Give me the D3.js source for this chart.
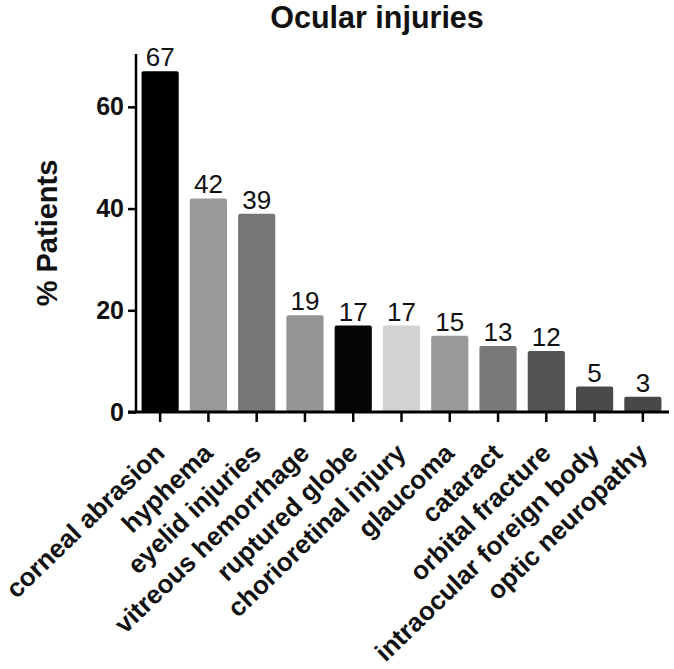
<!DOCTYPE html>
<html>
<head>
<meta charset="utf-8">
<script src="https://cdn.jsdelivr.net/npm/d3@7"></script>
<style>
    body { margin: 0; background: #fff; }
    text { font-family: "Liberation Sans", Arial, sans-serif; }
</style>
</head>
<body>
<div id="chart"></div>
<script>
const chartTitle = "Ocular injuries";
const yLabel = "% Patients";
const injuries = [
    "corneal abrasion", "hyphema", "eyelid injuries", "vitreous hemorrhage",
    "ruptured globe", "chorioretinal injury", "glaucoma", "cataract",
    "orbital fracture", "intraocular foreign body", "optic neuropathy"
];
const percentPatients = [67, 42, 39, 19, 17, 17, 15, 13, 12, 5, 3];
const yTickValues = [0, 20, 40, 60];

const config = {
    width: 674,
    height: 669,
    left: 136,
    right: 667,
    top: 56,
    bottom: 412
};

const fillScale = d3.scaleOrdinal()
    .domain(injuries)
    .range(["#000000", "#999999", "#767676", "#959595", "#050505", "#d2d2d2",
            "#999999", "#797979", "#545454", "#4a4a4a", "#484848"]);

const drawChart = () => {
    const svg = d3.select("#chart")
        .append("svg")
        .attr("width", config.width)
        .attr("height", config.height);

    const x = d3.scaleBand()
        .domain(injuries)
        .range([config.left, config.right])
        .paddingInner(0.23)
        .paddingOuter(0.115);

    const y = d3.scaleLinear()
        .domain([0, 70])
        .range([config.bottom, config.top]);

    // bars
    svg.append("g")
        .selectAll("rect")
        .data(injuries)
        .enter()
        .append("rect")
        .attr("x", (d) => x(d))
        .attr("y", (d, i) => y(percentPatients[i]))
        .attr("width", x.bandwidth())
        .attr("height", (d, i) => y(0) - y(percentPatients[i]))
        .attr("rx", 2)
        .attr("fill", (d) => fillScale(d));

    // value labels
    svg.append("g")
        .selectAll("text")
        .data(injuries)
        .enter()
        .append("text")
        .attr("x", (d) => x(d) + x.bandwidth() / 2)
        .attr("y", (d, i) => y(percentPatients[i]) - 5)
        .attr("text-anchor", "middle")
        .attr("font-size", 26)
        .attr("fill", "#111")
        .text((d, i) => percentPatients[i]);

    // y axis
    const yAxis = svg.append("g")
        .attr("transform", `translate(${config.left}, 0)`)
        .call(d3.axisLeft(y).tickValues(yTickValues).tickSize(8).tickPadding(4).tickSizeOuter(0));
    yAxis.select(".domain").attr("stroke", "#000").attr("stroke-width", 2.5)
        .attr("d", `M0,${config.top - 2}V${config.bottom}`);
    yAxis.selectAll(".tick line").attr("stroke", "#000").attr("stroke-width", 2.5);
    yAxis.selectAll(".tick text")
        .attr("font-size", 25)
        .attr("font-weight", "bold")
        .attr("font-family", "Liberation Sans, Arial, sans-serif")
        .attr("fill", "#111");

    // x axis
    const xAxis = svg.append("g")
        .attr("transform", `translate(0, ${config.bottom})`)
        .call(d3.axisBottom(x).tickSize(10).tickSizeOuter(0));
    xAxis.select(".domain").attr("stroke", "#000").attr("stroke-width", 3)
        .attr("d", `M${config.left - 8},0H${config.right + 2}`);
    xAxis.selectAll(".tick line").attr("stroke", "#000").attr("stroke-width", 2.5);
    xAxis.selectAll(".tick text")
        .attr("font-size", 26)
        .attr("font-weight", "bold")
        .attr("font-family", "Liberation Sans, Arial, sans-serif")
        .attr("fill", "#111")
        .attr("text-anchor", "end")
        .attr("y", 0)
        .attr("dy", 0)
        .attr("transform", "translate(6, 43) rotate(-44)");

    // titles
    svg.append("text")
        .attr("x", 377)
        .attr("y", 28)
        .attr("text-anchor", "middle")
        .attr("font-size", 30.5)
        .attr("font-weight", "bold")
        .attr("fill", "#111")
        .text(chartTitle);

    svg.append("text")
        .attr("transform", "translate(57, 233) rotate(-90)")
        .attr("text-anchor", "middle")
        .attr("font-size", 29)
        .attr("font-weight", "bold")
        .attr("fill", "#111")
        .text(yLabel);
}

drawChart();
</script>
</body>
</html>
